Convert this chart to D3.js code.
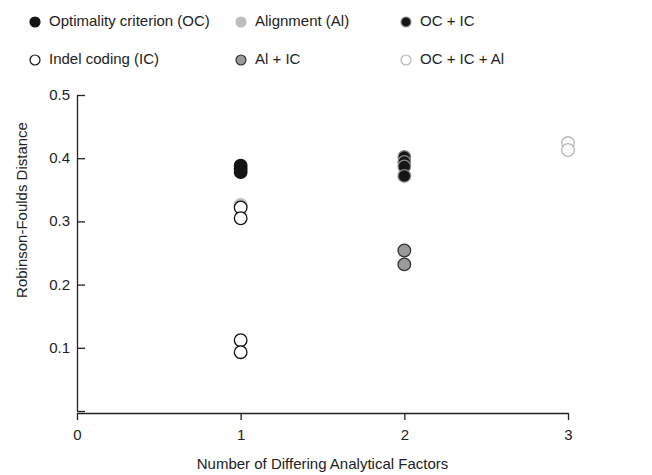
<!DOCTYPE html>
<html>
<head>
<meta charset="utf-8">
<script src="https://cdn.jsdelivr.net/npm/d3@7"></script>
<style>
  body { margin: 0; background: #fff; }
  svg text { font-family: "Liberation Sans", Arial, sans-serif; fill: #222; }
</style>
</head>
<body>
<div id="chart"></div>
<script>
// x value (number of differing factors) and RF distances per group
const groups = ['OC', 'IC', 'Al', 'AlIC', 'OCIC', 'OCICAl'];
const groupLabels = ['Optimality criterion (OC)', 'Indel coding (IC)', 'Alignment (Al)', 'Al + IC', 'OC + IC', 'OC + IC + Al'];
const alX = [1];
const alValues = [0.326];
const ocX = [1, 1, 1];
const ocValues = [0.388, 0.383, 0.378];
const icX = [1, 1, 1, 1];
const icValues = [0.322, 0.305, 0.112, 0.093];
const ocicX = [2, 2, 2, 2];
const ocicValues = [0.402, 0.394, 0.387, 0.372];
const alicX = [2, 2];
const alicValues = [0.254, 0.232];
const ocicalX = [3, 3];
const ocicalValues = [0.424, 0.413];
const xTicks = [0, 1, 2, 3];
const yTicks = [0, 0.1, 0.2, 0.3, 0.4, 0.5];

const styles = {
    OC: { fill: '#151515', stroke: '#151515' },
    IC: { fill: '#fff', stroke: '#111' },
    Al: { fill: '#bdbdbd', stroke: '#bdbdbd' },
    AlIC: { fill: '#9a9a9a', stroke: '#333' },
    OCIC: { fill: '#151515', stroke: '#8a8a8a' },
    OCICAl: { fill: '#fff', stroke: '#b5b5b5' }
};

const fontSize = '15px';
const width = 652, height = 475;
const svg = d3.select('#chart').append('svg')
    .attr('width', width)
    .attr('height', height);

const x = d3.scaleLinear().domain([0, 3]).range([77, 568]);
const y = d3.scaleLinear().domain([0, 0.5]).range([411, 95]);

// y axis, ticks pointing inward
const yAxis = svg.append('g')
    .attr('transform', 'translate(77,0)')
    .call(d3.axisRight(y).tickValues(yTicks).tickSize(8).tickSizeOuter(0).tickFormat(''));
yAxis.selectAll('path, line').attr('stroke', '#222').attr('stroke-width', 1.3);
svg.append('g').selectAll('text')
    .data(yTicks.filter(d => d > 0))
    .enter().append('text')
    .attr('x', 70)
    .attr('y', d => y(d) + 5)
    .attr('text-anchor', 'end')
    .style('font-size', fontSize)
    .text(d => d3.format('.1f')(d));

// x axis
const xAxis = svg.append('g')
    .attr('transform', 'translate(0,413)')
    .call(d3.axisBottom(x).tickValues(xTicks).tickSize(7).tickSizeOuter(0).tickFormat(d3.format('d')));
xAxis.selectAll('path, line').attr('stroke', '#222').attr('stroke-width', 1.3);
xAxis.selectAll('text')
    .attr('y', 16)
    .style('font-size', fontSize)
    .style('font-family', '"Liberation Sans", Arial, sans-serif')
    .attr('fill', '#222');

// axis titles
svg.append('text')
    .attr('x', x(1.5))
    .attr('y', 469)
    .attr('text-anchor', 'middle')
    .style('font-size', fontSize)
    .text('Number of Differing Analytical Factors');

svg.append('text')
    .attr('transform', 'rotate(-90)')
    .attr('x', -210)
    .attr('y', 27)
    .attr('text-anchor', 'middle')
    .style('font-size', fontSize)
    .text('Robinson-Foulds Distance');

// points, drawn in order so overlaps look right
const series = [
    { key: 'Al', xs: alX, ys: alValues },
    { key: 'OC', xs: ocX, ys: ocValues },
    { key: 'IC', xs: icX, ys: icValues },
    { key: 'OCIC', xs: ocicX, ys: ocicValues },
    { key: 'AlIC', xs: alicX, ys: alicValues },
    { key: 'OCICAl', xs: ocicalX, ys: ocicalValues }
];

series.forEach(s => {
    svg.append('g').selectAll('circle')
        .data(s.ys.map((v, i) => ({ x: s.xs[i], y: v })))
        .enter().append('circle')
        .attr('cx', d => x(d.x))
        .attr('cy', d => y(d.y))
        .attr('r', 6.3)
        .attr('fill', styles[s.key].fill)
        .attr('stroke', styles[s.key].stroke)
        .attr('stroke-width', 1.3);
});

// legend, two rows by three columns
const legendCols = [35, 241, 406];
const legendRows = [21, 59];
const legendOrder = ['OC', 'IC', 'Al', 'AlIC', 'OCIC', 'OCICAl'];
const legend = svg.append('g');
legendOrder.forEach((key, i) => {
    const cx = legendCols[Math.floor(i / 2)];
    const cy = legendRows[i % 2];
    legend.append('circle')
        .attr('cx', cx)
        .attr('cy', cy + 1)
        .attr('r', 5)
        .attr('fill', styles[key].fill)
        .attr('stroke', styles[key].stroke)
        .attr('stroke-width', 1.2);
    legend.append('text')
        .attr('x', cx + 14)
        .attr('y', cy + 5)
        .style('font-size', fontSize)
        .text(groupLabels[groups.indexOf(key)]);
});
</script>
</body>
</html>
